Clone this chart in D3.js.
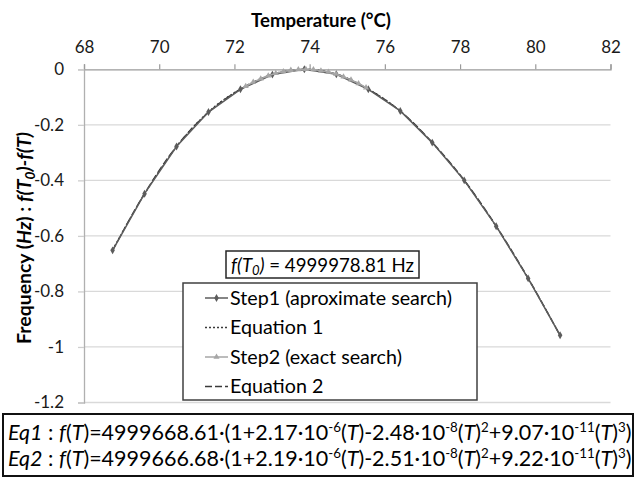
<!DOCTYPE html>
<html><head><meta charset="utf-8">
<script src="https://cdn.jsdelivr.net/npm/d3@7"></script>
<style>
body{margin:0;background:#fff}
svg{display:block}
text{font-family:Lato,"Open Sans",sans-serif;fill:#000}
</style>
</head><body>
<svg id="c" width="635" height="479"></svg>
<script>
// ---------- data ----------
const xTicks = [68, 70, 72, 74, 76, 78, 80, 82];
const yTicks = [0, -0.2, -0.4, -0.6, -0.8, -1, -1.2];

const step1T = [68.76, 69.61, 70.46, 71.31, 72.16, 73.01, 73.86, 74.71, 75.56, 76.41, 77.26, 78.11, 78.96, 79.81, 80.66];
const step1V = [-0.652, -0.448, -0.278, -0.154, -0.072, -0.019, 0, -0.018, -0.072, -0.150, -0.264, -0.400, -0.565, -0.753, -0.958];
const eq1V   = [-0.650, -0.449, -0.279, -0.153, -0.071, -0.018, 0, -0.018, -0.071, -0.151, -0.265, -0.401, -0.566, -0.754, -0.957];
const eq2V   = [-0.653, -0.447, -0.277, -0.155, -0.072, -0.019, 0, -0.017, -0.072, -0.150, -0.263, -0.399, -0.564, -0.752, -0.959];

const step2T = [72.3, 72.5, 72.7, 72.9, 73.1, 73.3, 73.5, 73.7, 73.9, 74.1, 74.3, 74.5, 74.7, 74.9, 75.1, 75.3, 75.5];
const step2V = [-0.061, -0.046, -0.034, -0.023, -0.014, -0.008, -0.003, -0.001, 0, -0.001, -0.005, -0.010, -0.017, -0.027, -0.038, -0.051, -0.066];

const legendNames = ["Step1 (aproximate search)", "Equation 1", "Step2 (exact search)", "Equation 2"];
const f0Value = "4999978.81";

const eqNames = ["Eq1", "Eq2"];
const eqA = ["4999668.61", "4999666.68"];
const eqB = ["2.17", "2.19"];
const eqC = ["2.48", "2.51"];
const eqD = ["9.07", "9.22"];

// ---------- chart ----------
const svg = d3.select("#c");
const x = d3.scaleLinear().domain([68, 82]).range([84, 610.5]);
const y = d3.scaleLinear().domain([-1.2, 0]).range([402.5, 69.3]);

function fit(t, w) {
  const s = parseFloat(t.attr("font-size"));
  const L = t.node().getComputedTextLength();
  t.attr("font-size", s * w / L);
}

// gridlines
svg.append("g").selectAll("line").data(yTicks.filter(d => d !== 0)).join("line")
  .attr("x1", 84).attr("x2", 610.5)
  .attr("y1", d => y(d)).attr("y2", d => y(d))
  .attr("stroke", "#d9d9d9").attr("stroke-width", 1.3);

// x axis (top)
const gx = svg.append("g").attr("transform", `translate(0,${y(0)})`)
  .call(d3.axisTop(x).tickValues(xTicks).tickSize(5).tickPadding(11).tickFormat(d => String(d)));
gx.select(".domain").attr("stroke", "#9a9a9a").attr("stroke-width", 1.3);
gx.selectAll(".tick line").attr("stroke", "#9a9a9a").attr("stroke-width", 1.2);
gx.selectAll("text").attr("font-size", 17).attr("font-family", null).style("fill", "#1a1a1a");

// y axis (left)
const gy = svg.append("g").attr("transform", `translate(${x(68)},0)`)
  .call(d3.axisLeft(y).tickValues(yTicks).tickSize(6).tickPadding(14).tickFormat(d => String(d)));
gy.select(".domain").attr("stroke", "#b0b0b0").attr("stroke-width", 1.3);
gy.selectAll(".tick line").attr("stroke", "#cfcfcf").attr("stroke-width", 1.3);
gy.selectAll("text").attr("font-size", 17).attr("font-family", null).style("fill", "#1a1a1a");

// titles
const xt = svg.append("text").attr("x", 321).attr("y", 27).attr("text-anchor", "middle")
  .attr("font-weight", "bold").attr("font-size", 16).text("Temperature (°C)");
fit(xt, 140);

const yt = svg.append("text").attr("transform", "translate(24,238) rotate(-90)")
  .attr("text-anchor", "middle").attr("font-weight", "bold").attr("font-size", 15).attr("dy", "0.35em");
yt.append("tspan").text("Frequency (");
yt.append("tspan").attr("font-style", "italic").text("Hz");
yt.append("tspan").text(") : ");
yt.append("tspan").attr("font-style", "italic").text("f(T");
yt.append("tspan").attr("font-style", "italic").attr("font-size", "0.7em").attr("dy", "0.3em").text("0");
yt.append("tspan").attr("font-style", "italic").attr("dy", "-0.21em").text(")-f(T)");
fit(yt, 212);

// series
const pts = (T, V) => T.map((t, i) => [t, V[i]]);
const lineLin = d3.line().x(d => x(d[0])).y(d => y(d[1]));
const lineSm = d3.line().x(d => x(d[0])).y(d => y(d[1])).curve(d3.curveMonotoneX);

svg.append("path").datum(pts(step1T, eq1V)).attr("d", lineSm)
  .attr("fill", "none").attr("stroke", "#3a3a3a").attr("stroke-width", 1.3).attr("stroke-dasharray", "2,2");
svg.append("path").datum(pts(step1T, eq2V)).attr("d", lineSm)
  .attr("fill", "none").attr("stroke", "#3a3a3a").attr("stroke-width", 1.3).attr("stroke-dasharray", "7,3");
svg.append("path").datum(pts(step1T, step1V)).attr("d", lineLin)
  .attr("fill", "none").attr("stroke", "#5c5c5c").attr("stroke-width", 1.5);
svg.append("g").selectAll("path").data(pts(step1T, step1V)).join("path")
  .attr("transform", d => `translate(${x(d[0])},${y(d[1])})`)
  .attr("d", d3.symbol(d3.symbolDiamond, 18)).attr("fill", "#5c5c5c");

svg.append("path").datum(pts(step2T, step2V)).attr("d", lineLin)
  .attr("fill", "none").attr("stroke", "#a6a6a6").attr("stroke-width", 1.5);
svg.append("g").selectAll("path").data(pts(step2T, step2V)).join("path")
  .attr("transform", d => `translate(${x(d[0])},${y(d[1])})`)
  .attr("d", d3.symbol(d3.symbolTriangle, 16)).attr("fill", "#a6a6a6");

// f(T0) box
svg.append("rect").attr("x", 226).attr("y", 251).attr("width", 193).attr("height", 27)
  .attr("fill", "#fff").attr("stroke", "#262626").attr("stroke-width", 1.5);
const ft = svg.append("text").attr("x", 322.5).attr("y", 265).attr("dy", "0.35em")
  .attr("text-anchor", "middle").attr("font-size", 17);
ft.append("tspan").attr("font-style", "italic").text("f(T");
ft.append("tspan").attr("font-style", "italic").attr("font-size", "0.7em").attr("dy", "0.3em").text("0");
ft.append("tspan").attr("font-style", "italic").attr("dy", "-0.21em").text(")");
ft.append("tspan").text(" = " + f0Value + " Hz");
fit(ft, 183);

// legend
svg.append("rect").attr("x", 183).attr("y", 283).attr("width", 294).attr("height", 117)
  .attr("fill", "#fff").attr("stroke", "#404040").attr("stroke-width", 1.5);
const legStyles = [
  {stroke: "#5c5c5c", dash: null, sym: d3.symbolDiamond, symSize: 18},
  {stroke: "#3a3a3a", dash: "2,2", sym: null},
  {stroke: "#a6a6a6", dash: null, sym: d3.symbolTriangle, symSize: 16},
  {stroke: "#3a3a3a", dash: "7,3", sym: null}
];
const rowY = d3.scalePoint().domain(legendNames).range([298, 386.5]);
const lg = svg.append("g").selectAll("g").data(legendNames).join("g")
  .attr("transform", d => `translate(0,${rowY(d)})`);
lg.append("line").attr("x1", 205).attr("x2", 228)
  .attr("stroke", (d, i) => legStyles[i].stroke).attr("stroke-width", 1.5)
  .attr("stroke-dasharray", (d, i) => legStyles[i].dash);
lg.filter((d, i) => legStyles[i].sym).append("path")
  .attr("transform", "translate(216.5,0)")
  .attr("d", (d) => { const s = legStyles[legendNames.indexOf(d)]; return d3.symbol(s.sym, s.symSize)(); })
  .attr("fill", (d) => legStyles[legendNames.indexOf(d)].stroke);
const legTexts = lg.append("text").attr("x", 230).attr("dy", "0.35em").attr("font-size", 18).text(d => d);
const first = d3.select(legTexts.nodes()[0]);
fit(first, 222);
legTexts.attr("font-size", first.attr("font-size"));

// equation box
svg.append("rect").attr("x", 3).attr("y", 414).attr("width", 630).attr("height", 62)
  .attr("fill", "#fff").attr("stroke", "#111").attr("stroke-width", 2);
const eqRowY = [432, 458];
eqNames.forEach((nm, k) => {
  const t = svg.append("text").attr("x", 8).attr("y", eqRowY[k]).attr("dy", "0.35em").attr("font-size", 18);
  const add = (s, kind) => {
    const sp = t.append("tspan").text(s);
    if (kind === "i") sp.attr("font-style", "italic");
    return sp;
  };
  let back = false;
  const norm = (s, kind) => { const sp = add(s, kind); if (back) { sp.attr("dy", "0.372em"); back = false; } return sp; };
  const sup = (s) => { add(s).attr("font-size", "0.62em").attr("dy", "-0.6em"); back = true; };
  norm(nm, "i"); norm(" : "); norm("f", "i"); norm("("); norm("T", "i");
  norm(")=" + eqA[k] + "·(1+" + eqB[k] + "·10"); sup("-6");
  norm("("); norm("T", "i"); norm(")-" + eqC[k] + "·10"); sup("-8");
  norm("("); norm("T", "i"); norm(")"); sup("2");
  norm("+" + eqD[k] + "·10"); sup("-11");
  norm("("); norm("T", "i"); norm(")"); sup("3");
  norm(")");
  fit(t, 624);
});
</script>
</body></html>
